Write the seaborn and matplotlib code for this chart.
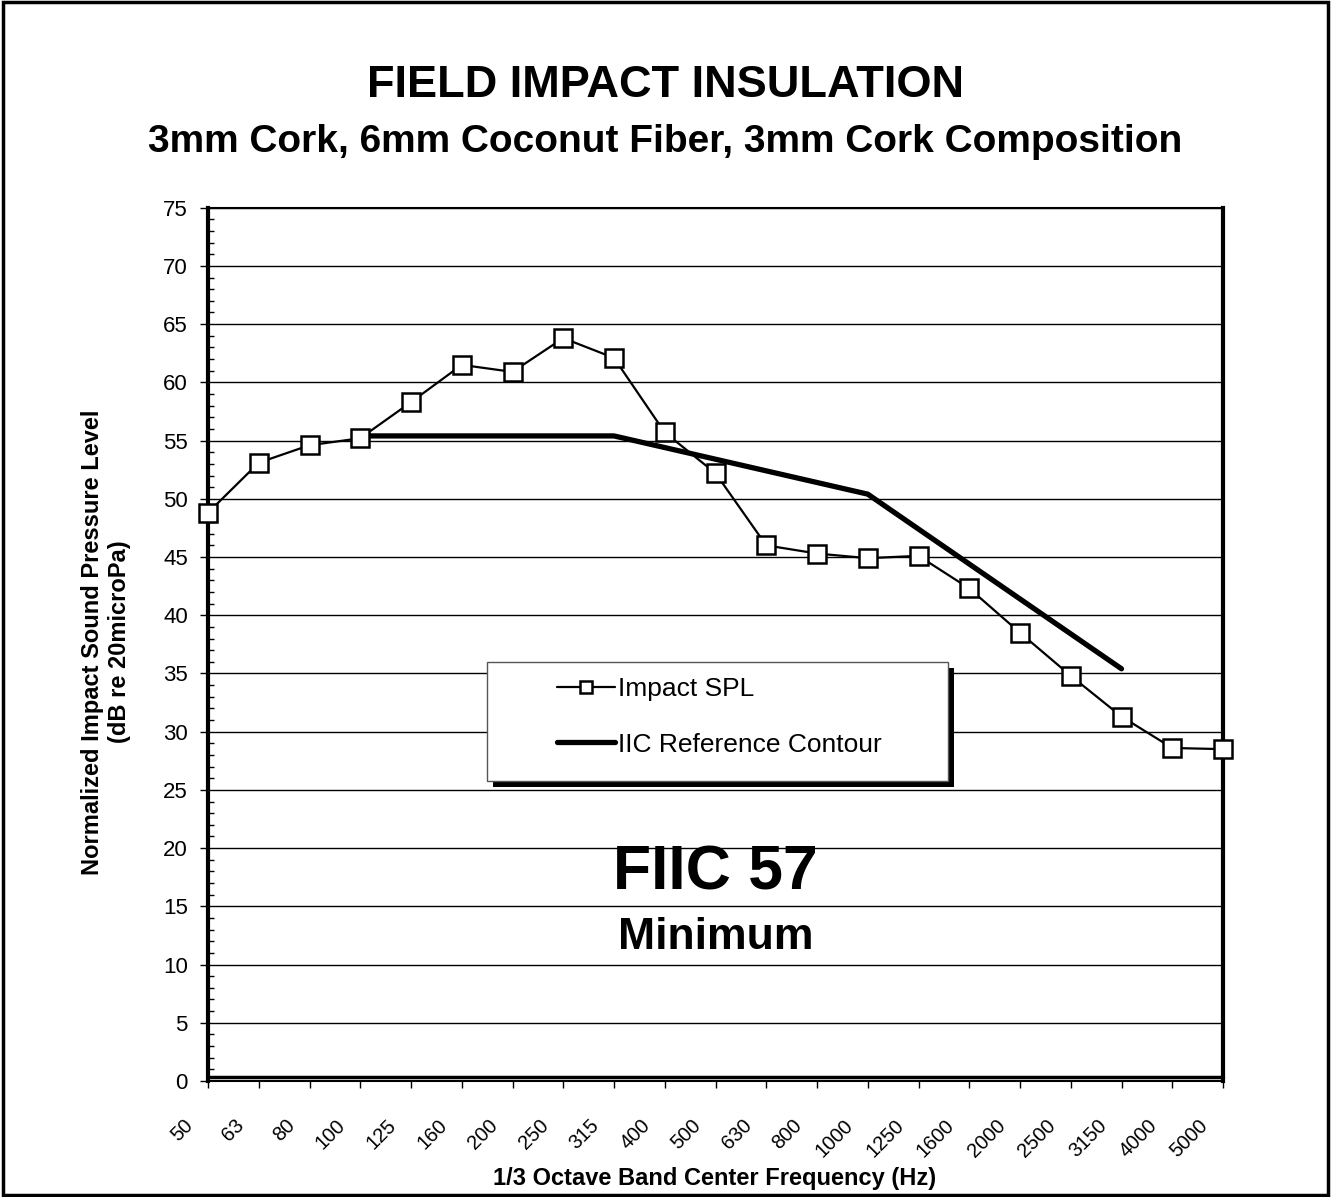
import numpy as np
import pandas as pd
import matplotlib
matplotlib.use("Agg")
import matplotlib.pyplot as plt
import matplotlib.transforms as mtransforms
from matplotlib.patches import Rectangle
from matplotlib.lines import Line2D
from matplotlib.ticker import MultipleLocator
import seaborn as sns

# ── data ─────────────────────────────────────────────────────
BANDS = ["50", "63", "80", "100", "125", "160", "200", "250", "315", "400",
         "500", "630", "800", "1000", "1250", "1600", "2000", "2500", "3150",
         "4000", "5000"]
SPL = [48.8, 53.1, 54.6, 55.2, 58.3, 61.5, 60.9, 63.8, 62.1, 55.7,
       52.2, 46.0, 45.3, 44.9, 45.1, 42.3, 38.5, 34.8, 31.3, 28.6, 28.5]
IIC_BANDS = ["100", "125", "160", "200", "250", "315", "400", "500", "630",
             "800", "1000", "1250", "1600", "2000", "2500", "3150"]
IIC = [55.4, 55.4, 55.4, 55.4, 55.4, 55.4, 54.4, 53.4, 52.4,
       51.4, 50.4, 47.4, 44.4, 41.4, 38.4, 35.4]

spl_df = pd.DataFrame({"pos": range(len(BANDS)), "spl": SPL})
iic_df = pd.DataFrame({"pos": [BANDS.index(b) for b in IIC_BANDS], "iic": IIC})

sns.set_style("white")
plt.rcParams["font.family"] = ["Liberation Sans", "DejaVu Sans"]
plt.rcParams.update({"text.color": "black", "axes.labelcolor": "black",
                     "xtick.color": "black", "ytick.color": "black",
                     "axes.edgecolor": "black"})

W, H = 1331, 1197
fig = plt.figure(figsize=(W / 100, H / 100), dpi=100)
fx = lambda px: px / W
fy = lambda py: 1 - py / H

ax = fig.add_axes([fx(208), fy(1081), fx(1223) - fx(208), fy(207.7) - fy(1081)])

sns.lineplot(data=iic_df, x="pos", y="iic", ax=ax, color="black", lw=3.8,
             label="IIC Reference Contour", zorder=4, clip_on=False)
sns.lineplot(data=spl_df, x="pos", y="spl", ax=ax, color="black", lw=1.6,
             marker="s", markersize=13, markerfacecolor="white",
             markeredgecolor="black", markeredgewidth=1.8,
             label="Impact SPL", zorder=5, clip_on=False)

ax.set_xlim(0, len(BANDS) - 1)
ax.set_ylim(0, 75)
ax.set_xlabel("")
ax.set_ylabel("")

# y axis
ax.yaxis.set_major_locator(MultipleLocator(5))
ax.yaxis.set_minor_locator(MultipleLocator(1))
ax.tick_params(axis="y", which="major", direction="out", length=6, width=1,
               labelsize=16, pad=8.5, left=True, right=False)
ax.tick_params(axis="y", which="minor", direction="in", length=4, width=1,
               left=True, right=False)
ax.yaxis.grid(True, which="major", color="black", lw=1.0)
ax.set_axisbelow(True)

# x axis
ax.set_xticks(range(len(BANDS)))
ax.set_xticklabels(BANDS, rotation=45, ha="right", va="top", fontsize=14.5)
ax.tick_params(axis="x", which="major", direction="out", length=5, width=1,
               pad=20, bottom=True)
shift = mtransforms.ScaledTranslation(-11 / 100, 0, fig.dpi_scale_trans)
for lab in ax.get_xticklabels():
    lab.set_transform(lab.get_transform() + shift)

for side, lw in {"left": 3, "right": 3, "top": 1.5, "bottom": 1.5}.items():
    ax.spines[side].set_color("black")
    ax.spines[side].set_linewidth(lw)

# plot-area frame line sitting just above the category axis
frame_off = mtransforms.ScaledTranslation(0, 4.5 / 100, fig.dpi_scale_trans)
ax.add_line(Line2D([0, 1], [0, 0], transform=ax.transAxes + frame_off,
                   color="black", lw=2.5, clip_on=False, zorder=3))

# legend box with hard shadow
ax.add_patch(Rectangle((fx(493), fy(787)), fx(954) - fx(493), fy(668) - fy(787),
                       transform=fig.transFigure, facecolor="black",
                       edgecolor="none", zorder=6, clip_on=False))
ax.add_patch(Rectangle((fx(487), fy(781)), fx(948) - fx(487), fy(662) - fy(781),
                       transform=fig.transFigure, facecolor="white",
                       edgecolor="#555555", lw=1, zorder=6.1, clip_on=False))
handles, labels = ax.get_legend_handles_labels()
order = [labels.index("Impact SPL"), labels.index("IIC Reference Contour")]
leg = ax.legend([handles[i] for i in order], [labels[i] for i in order],
                loc="upper left", bbox_to_anchor=(fx(557), fy(677)),
                bbox_transform=fig.transFigure, frameon=False, fontsize=19,
                handlelength=2.2, handletextpad=0.12, labelspacing=1.2,
                borderpad=0, borderaxespad=0, markerscale=0.7)
leg.set_zorder(7)

# annotation
fig.text(fx(715), fy(889), "FIIC 57", ha="center", va="baseline",
         fontsize=45, fontweight="bold")
fig.text(fx(716), fy(949), "Minimum", ha="center", va="baseline",
         fontsize=32, fontweight="bold")

# titles
fig.text(fx(665.5), fy(97), "FIELD IMPACT INSULATION", ha="center",
         va="baseline", fontsize=32.5, fontweight="bold")
fig.text(fx(665.5), fy(152), "3mm Cork, 6mm Coconut Fiber, 3mm Cork Composition",
         ha="center", va="baseline", fontsize=28, fontweight="bold")
fig.text(fx(106), fy(642),
         "Normalized Impact Sound Pressure Level\n(dB re 20microPa)",
         rotation=90, ha="center", va="center", fontsize=17,
         fontweight="bold", linespacing=1.25, multialignment="center")
fig.text(fx(715), fy(1185), "1/3 Octave Band Center Frequency (Hz)",
         ha="center", va="baseline", fontsize=17, fontweight="bold")

# outer chart border
fig.patches.append(Rectangle((0.002, 0.002), 0.996, 0.996,
                             transform=fig.transFigure, fill=False,
                             edgecolor="black", lw=2.5))

fig.savefig("out.png", dpi=100)
